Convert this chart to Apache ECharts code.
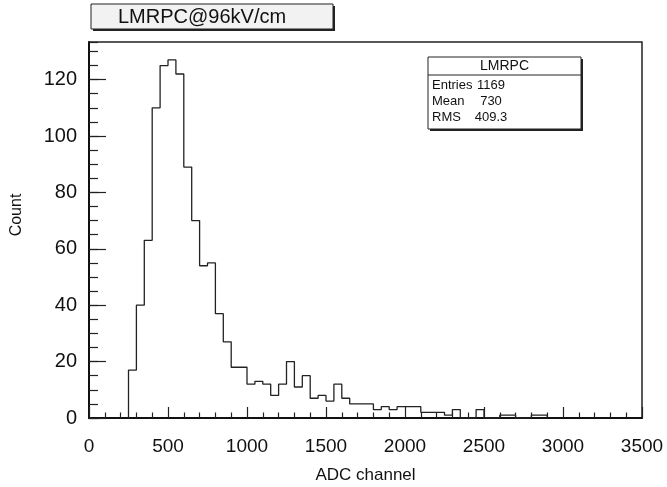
<!DOCTYPE html>
<html>
<head>
<meta charset="utf-8">
<script src="https://cdn.jsdelivr.net/npm/echarts@6/dist/echarts.min.js"></script>
<style>
html,body{margin:0;padding:0;background:#fff;}
#chart{width:667px;height:487px;}
</style>
</head>
<body>
<div id="chart"></div>
<script>
// Histogram bins (lower edges, ADC channel) and counts, bin width 50
const binLowEdges = [250,300,350,400,450,500,550,600,650,700,750,800,850,900,950,
  1000,1050,1100,1150,1200,1250,1300,1350,1400,1450,1500,1550,1600,1650,1700,1750,
  1800,1850,1900,1950,2000,2050,2100,2150,2200,2250,2300,2350,2400,2450,2500,2550,
  2600,2650,2700,2750,2800,2850];
const binUpperEnd = 2900;
const counts = [17,40,63,110,125,127,122,89,70,54,55,37,27,18,18,
  12,13,12,8,12,20,11,15,7,8,6,12,7,5,5,5,
  3,4,3,4,4,4,2,2,2,1,3,0,0,3,0,0,
  1,1,0,0,1,1];
const xTicks = [0,500,1000,1500,2000,2500,3000,3500];
const yTicks = [0,20,40,60,80,100,120];
const titleText = 'LMRPC@96kV/cm';
const statsName = 'LMRPC';
const statsLabels = ['Entries','Mean','RMS'];
const statsValues = ['1169','730','409.3'];
const xTitle = 'ADC channel';
const yTitle = 'Count';

const FONT = "'Liberation Sans', Arial, sans-serif";

// step outline points
const stepData = [[binLowEdges[0], 0]];
for (let i = 0; i < binLowEdges.length; i++) stepData.push([binLowEdges[i], counts[i]]);
stepData.push([binUpperEnd, 0]);

const yMax = Math.max(...counts) * 1.05;

const chart = echarts.init(document.getElementById('chart'), null, {renderer:'canvas'});

const G = {left:89, top:42, width:553, height:376};

const graphics = [];
// title box
graphics.push({type:'rect', shape:{x:93, y:6, width:242, height:25}, style:{fill:'#222'}, z:10});
graphics.push({type:'rect', shape:{x:91, y:4, width:242, height:25}, style:{fill:'#f2f2f2', stroke:'#222', lineWidth:1}, z:11});
graphics.push({type:'text', x:118, y:17, style:{text:titleText, font:"20px " + FONT, fill:'#111', textVerticalAlign:'middle', textAlign:'left'}, z:12});
// stats box
const sb = {x:428, y:57, w:153, h:72};
graphics.push({type:'rect', shape:{x:sb.x+2, y:sb.y+2, width:sb.w, height:sb.h}, style:{fill:'#222'}, z:10});
graphics.push({type:'rect', shape:{x:sb.x, y:sb.y, width:sb.w, height:sb.h}, style:{fill:'#fff', stroke:'#222', lineWidth:1}, z:11});
graphics.push({type:'line', shape:{x1:sb.x, y1:sb.y+18, x2:sb.x+sb.w, y2:sb.y+18}, style:{stroke:'#222', lineWidth:1}, z:12});
graphics.push({type:'text', x:sb.x+sb.w/2, y:sb.y+9.5, style:{text:statsName, font:"14px " + FONT, fill:'#111', textAlign:'center', textVerticalAlign:'middle'}, z:12});
for (let i = 0; i < statsLabels.length; i++) {
  const yy = sb.y + 28.5 + i*16;
  graphics.push({type:'text', x:sb.x+4, y:yy, style:{text:statsLabels[i], font:"13px " + FONT, fill:'#111', textAlign:'left', textVerticalAlign:'middle'}, z:12});
  graphics.push({type:'text', x:sb.x+63, y:yy, style:{text:statsValues[i], font:"13px " + FONT, fill:'#111', textAlign:'center', textVerticalAlign:'middle'}, z:12});
}
// y title
graphics.push({type:'text', x:17, y:215, rotation:Math.PI/2, style:{text:yTitle, font:"16px " + FONT, fill:'#111', textAlign:'center', textVerticalAlign:'middle'}, z:12});

chart.setOption({
  animation:false,
  backgroundColor:'#fff',
  grid:{left:G.left, top:G.top, width:G.width, height:G.height, show:true, borderColor:'#222', borderWidth:1.5, backgroundColor:'transparent', containLabel:false, outerBoundsMode:'none'},
  xAxis:{
    type:'value', min:xTicks[0], max:xTicks[xTicks.length-1], interval:500,
    name:xTitle, nameLocation:'middle', nameGap:49,
    nameTextStyle:{fontFamily:FONT, fontSize:17, color:'#111'},
    axisLine:{show:true, onZero:false, lineStyle:{color:'#111', width:2}},
    axisTick:{show:true, inside:true, length:11, lineStyle:{color:'#222', width:1.2}},
    minorTick:{show:true, splitNumber:5, length:5.5, lineStyle:{color:'#222', width:1.2}},
    splitLine:{show:false}, minorSplitLine:{show:false},
    axisLabel:{fontFamily:FONT, fontSize:19, color:'#111', margin:19, formatter:function(v){return String(v);}}
  },
  yAxis:[{
    type:'value', min:0, max:yMax, interval:20, position:'left',
    axisLine:{show:true, onZero:false, lineStyle:{color:'#111', width:2}},
    axisTick:{show:true, inside:true, length:17, lineStyle:{color:'#222', width:1.2}},
    splitLine:{show:false},
    axisLabel:{fontFamily:FONT, fontSize:20, color:'#111', margin:12, showMaxLabel:false, formatter:function(v){return String(v);}}
  },{
    type:'value', min:0, max:yMax, interval:5, position:'left', offset:0,
    axisLine:{show:false},
    axisTick:{show:true, inside:true, length:9, lineStyle:{color:'#222', width:1.2}},
    splitLine:{show:false},
    axisLabel:{show:false}
  }],
  series:[{
    type:'line', step:'end', xAxisIndex:0, yAxisIndex:0,
    data:stepData, showSymbol:false, symbol:'none',
    lineStyle:{color:'#222', width:1.3}, z:5
  }],
  graphic:graphics
});
</script>
</body>
</html>
